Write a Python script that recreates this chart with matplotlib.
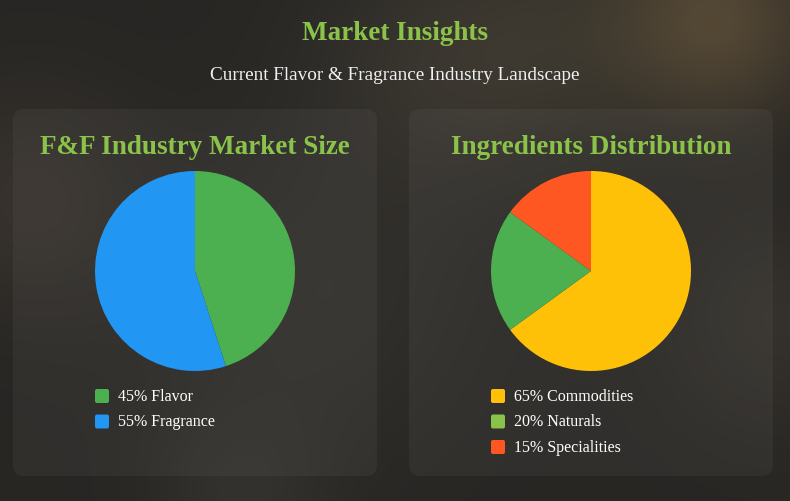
import matplotlib
matplotlib.use("Agg")
import matplotlib.pyplot as plt
import numpy as np
from matplotlib.patches import FancyBboxPatch

# data
market_labels = ["45% Flavor", "55% Fragrance"]
market_values = [45, 55]
market_colors = ["#4CAF50", "#2196F3"]
market_legend_colors = ["#4CAF50", "#2196F3"]

ingr_labels = ["65% Commodities", "20% Naturals", "15% Specialities"]
ingr_values = [65, 20, 15]
ingr_colors = ["#FFC107", "#4CAF50", "#FF5722"]
ingr_legend_colors = ["#FFC107", "#8BC34A", "#FF5722"]

W, H = 790, 502
GREEN = "#8BC34A"
plt.rcParams['font.family'] = ['Liberation Serif', 'DejaVu Serif']

fig = plt.figure(figsize=(W / 100, H / 100), dpi=100)
ax = fig.add_axes([0, 0, 1, 1])

# blurred dark background
yy, xx = np.mgrid[0:H, 0:W]
base = np.zeros((H, W, 3))
base[:] = np.array([0.155, 0.15, 0.14])
blobs = [  # x, y, sigma, rgb add
    (720, 20, 70, (0.16, 0.12, 0.06)),
    (560, 40, 90, (0.06, 0.05, 0.03)),
    (430, 70, 90, (0.05, 0.045, 0.035)),
    (30, 200, 80, (0.06, 0.045, 0.035)),
    (320, 300, 110, (0.04, 0.035, 0.03)),
    (780, 320, 80, (0.05, 0.04, 0.03)),
    (240, 495, 60, (0.04, 0.04, 0.035)),
]
for bx, by, s, c in blobs:
    g = np.exp(-((xx - bx) ** 2 + (yy - by) ** 2) / (2 * s * s))
    base += g[..., None] * np.array(c)
ax.imshow(np.clip(base, 0, 1), extent=(0, W, 0, H), origin="upper", zorder=0)

def Y(y):
    return H - y

# panels
for x0 in (13, 409):
    ax.add_patch(FancyBboxPatch((x0, Y(477)), 364, 367,
                                boxstyle="round,pad=0,rounding_size=11",
                                fc=(1, 1, 1, 0.045), ec="none", zorder=1))

ax.text(W / 2, Y(34), "Market Insights", ha="center", va="center",
        fontsize=19.5, fontweight="bold", color=GREEN, zorder=3)
ax.text(W / 2, Y(75), "Current Flavor & Fragrance Industry Landscape",
        ha="center", va="center", fontsize=13.8, color="#f0f0f0", zorder=3)

ax.text(195, Y(147), "F&F Industry Market Size", ha="center", va="center",
        fontsize=19.5, fontweight="bold", color=GREEN, zorder=3)
ax.text(591, Y(147), "Ingredients Distribution", ha="center", va="center",
        fontsize=19.5, fontweight="bold", color=GREEN, zorder=3)

ax.pie(market_values, colors=market_colors, startangle=90, counterclock=False,
       center=(195, Y(272)), radius=100, frame=True,
       wedgeprops=dict(linewidth=0, zorder=2))
ax.pie(ingr_values, colors=ingr_colors, startangle=90, counterclock=False,
       center=(591, Y(272)), radius=100, frame=True,
       wedgeprops=dict(linewidth=0, zorder=2))

def legend(x, y0, labels, colors):
    for i, (lab, col) in enumerate(zip(labels, colors)):
        y = y0 + i * 25.5
        ax.add_patch(FancyBboxPatch((x, Y(y) - 7), 14, 14,
                                    boxstyle="round,pad=0,rounding_size=2",
                                    fc=col, ec="none", zorder=3))
        ax.text(x + 23, Y(y), lab, ha="left", va="center", fontsize=11.5,
                color="white", zorder=3)

legend(95, 397, market_labels, market_legend_colors)
legend(491, 397, ingr_labels, ingr_legend_colors)

ax.set_xlim(0, W)
ax.set_ylim(0, H)
ax.set_aspect("auto")
ax.axis("off")
fig.savefig("out.png", dpi=100)
